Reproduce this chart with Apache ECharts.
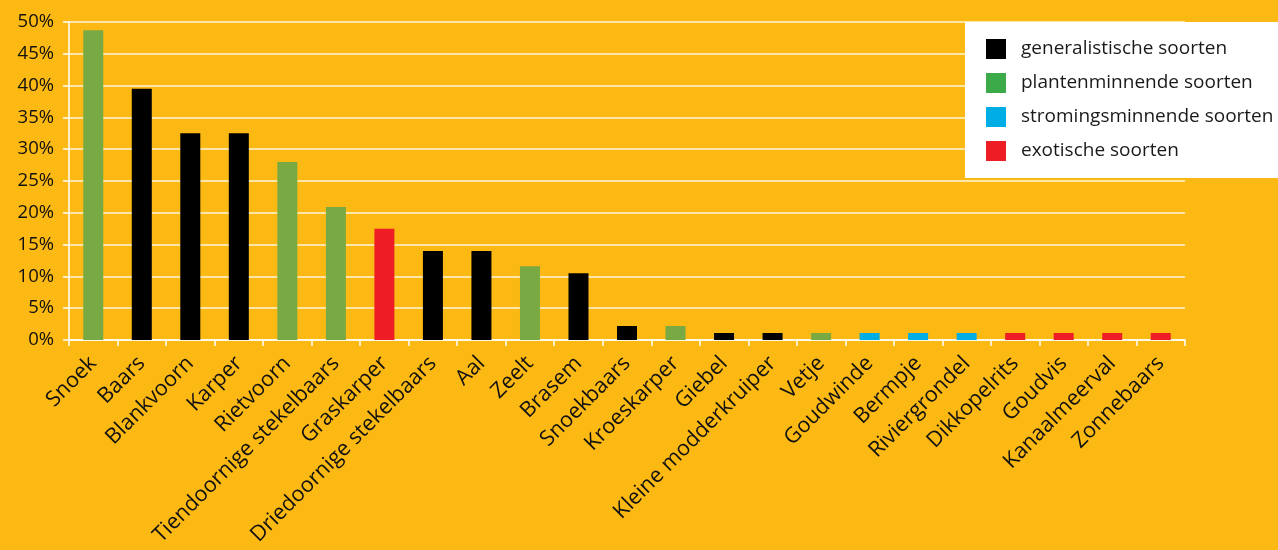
<!DOCTYPE html>
<html>
<head>
<meta charset="utf-8">
<style>
  html, body { margin: 0; padding: 0; background: #fdb913; }
  #chart { width: 1278px; height: 550px; }
</style>
<script src="https://cdn.jsdelivr.net/npm/echarts@6/dist/echarts.min.js"></script>
</head>
<body>
<div id="chart"></div>
<script>
// soorten en aandeel (%)
const categories = ['Snoek', 'Baars', 'Blankvoorn', 'Karper', 'Rietvoorn', 'Tiendoornige stekelbaars',
  'Graskarper', 'Driedoornige stekelbaars', 'Aal', 'Zeelt', 'Brasem', 'Snoekbaars', 'Kroeskarper',
  'Giebel', 'Kleine modderkruiper', 'Vetje', 'Goudwinde', 'Bermpje', 'Riviergrondel', 'Dikkopelrits',
  'Goudvis', 'Kanaalmeerval', 'Zonnebaars']
const values = [48.7, 39.5, 32.5, 32.5, 28.0, 20.9, 17.5, 14.0, 14.0, 11.6, 10.5, 2.2, 2.2,
  1.1, 1.1, 1.1, 1.1, 1.1, 1.1, 1.1, 1.1, 1.1, 1.1]
// 0 = generalistisch, 1 = plantenminnend, 2 = stromingsminnend, 3 = exotisch
const groups = [1, 0, 0, 0, 1, 1, 3, 0, 0, 1, 0, 0, 1, 0, 0, 1, 2, 2, 2, 3, 3, 3, 3]
const groupNames = ['generalistische soorten', 'plantenminnende soorten', 'stromingsminnende soorten', 'exotische soorten']
const barColors = ['#000000', '#79a942', '#00aee5', '#ee1c25']
const legendColors = ['#000000', '#3daa4a', '#00aee5', '#ee1c25']
const yTicks = [0, 5, 10, 15, 20, 25, 30, 35, 40, 45, 50]

const font = '"Open Sans", Lato, sans-serif'
const myEcharts = echarts.init(document.getElementById('chart'))

const series = groupNames.map((name, g) => ({
  name: name,
  type: 'bar',
  stack: 'all',
  barWidth: 20,
  color: legendColors[g],
  itemStyle: { color: barColors[g] },
  data: values.map((v, i) => groups[i] === g ? v : '-')
}))

const option = {
  backgroundColor: '#fdb913',
  animation: false,
  textStyle: { fontFamily: font },
  grid: { left: 69, right: 93, top: 22, bottom: 210, containLabel: false },
  legend: {
    orient: 'vertical',
    left: 965,
    top: 22,
    padding: [17, 40, 17, 21],
    backgroundColor: '#ffffff',
    icon: 'rect',
    itemWidth: 20,
    itemHeight: 20,
    itemGap: 14,
    data: groupNames.map((n, g) => ({ name: n, itemStyle: { color: legendColors[g] } })),
    textStyle: { fontSize: 19, color: '#1a1a1a', fontFamily: font, padding: [0, 0, 0, 10] }
  },
  xAxis: {
    type: 'category',
    data: categories,
    axisLine: { lineStyle: { color: '#ffffff', width: 1.5 } },
    axisTick: { show: true, length: 6, lineStyle: { color: '#ffffff', width: 1.5 } },
    axisLabel: { rotate: 45, fontSize: 21.5, color: '#111111', margin: 20, interval: 0, fontFamily: font }
  },
  yAxis: {
    type: 'value',
    min: yTicks[0],
    max: yTicks[yTicks.length - 1],
    interval: 5,
    axisLine: { show: true, lineStyle: { color: '#ffffff', width: 1.5 } },
    axisTick: { show: true, length: 6, lineStyle: { color: '#ffffff', width: 1.5 } },
    axisLabel: { formatter: '{value}%', fontSize: 18.5, color: '#111111', margin: 15, fontFamily: font },
    splitLine: { lineStyle: { color: 'rgba(255,255,255,0.85)', width: 1.5 } }
  },
  series: series
}
myEcharts.setOption(option)
</script>
</body>
</html>
